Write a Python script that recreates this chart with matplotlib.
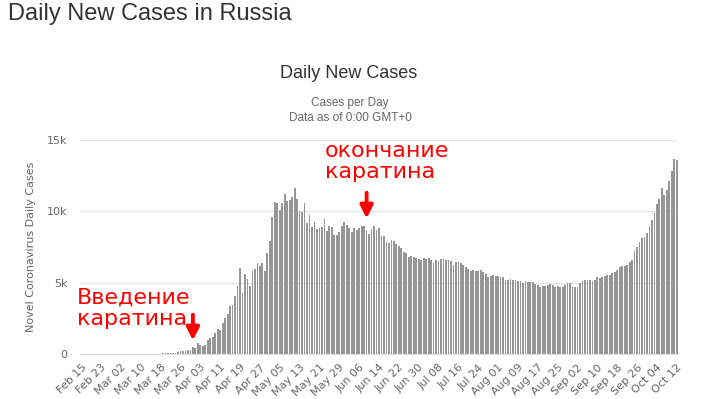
import matplotlib
matplotlib.use("Agg")
import matplotlib.pyplot as plt
import numpy as np
import pandas as pd

# daily new cases, Feb 15 .. Oct 12 2020, month by month
feb = [0] * 15
mar = [0, 1, 0, 0, 1, 6, 3, 0, 3, 3, 8, 6, 6, 14, 4, 30, 21, 33, 52, 54, 53, 61, 71,
       57, 163, 182, 196, 228, 270, 302, 501]
apr = [440, 771, 601, 582, 658, 954, 1154, 1175, 1459, 1786, 1667, 2186, 2558, 2774,
       3388, 3448, 4070, 4785, 6060, 4268, 5642, 5236, 4774, 5849, 5966, 6361, 6198,
       6411, 5841, 7099]
may = [7933, 9623, 10633, 10581, 10102, 10559, 11231, 10699, 10817, 11012, 11656,
       10899, 10028, 9974, 10598, 9200, 9709, 8926, 9263, 8764, 8849, 8894, 9434, 8599,
       8946, 8915, 8338, 8371, 8572, 8952, 9268]
jun = [9035, 8863, 8536, 8831, 8726, 8855, 8984, 8985, 8595, 8404, 8779, 8987, 8706,
       8835, 8246, 8248, 7843, 7790, 7972, 7889, 7728, 7600, 7425, 7176, 7113, 6800,
       6852, 6791, 6719, 6693]
jul = [6556, 6760, 6632, 6736, 6611, 6368, 6562, 6509, 6635, 6632, 6611, 6615, 6537,
       6248, 6422, 6428, 6406, 6234, 6109, 5940, 5842, 5862, 5848, 5811, 5871, 5765,
       5635, 5395, 5475, 5509, 5482]
aug = [5462, 5427, 5394, 5159, 5204, 5241, 5212, 5189, 5102, 5118, 4945, 5102, 5057,
       5065, 5061, 4892, 4839, 4718, 4748, 4767, 4870, 4921, 4852, 4696, 4744, 4676,
       4711, 4829, 4980, 4993, 4729]
sep = [4670, 4729, 4952, 5110, 5205, 5195, 5185, 5099, 5218, 5363, 5310, 5406, 5449,
       5509, 5529, 5670, 5762, 5905, 6065, 6148, 6196, 6215, 6431, 6595, 7212, 7523,
       7867, 8135, 8232, 8481]
octo = [8945, 9412, 9859, 10499, 10888, 11615, 11115, 11493, 12126, 12846, 13634, 13592]

cases = feb + mar + apr + may + jun + jul + aug + sep + octo
dates = pd.date_range("2020-02-15", periods=len(cases), freq="D")

y_ticks = [0, 5000, 10000, 15000]
y_labels = ["0", "5k", "10k", "15k"]

# annotations: (label, date, arrow tip value, arrow tail value)
start_note = ("Введение\nкаратина", "2020-03-31", 950, 2750)
end_note = ("окончание\nкаратина", "2020-06-09", 9500, 11300)

W, H = 702, 399
fig = plt.figure(figsize=(W / 100, H / 100), dpi=100)
ax = fig.add_axes([80 / W, 1 - 354 / H, 598 / W, 214 / H])

x = np.arange(len(cases))
ax.bar(x, cases, width=0.72, color="#969696", linewidth=0)

ax.set_xlim(-0.5, len(cases) - 0.5)
ax.set_ylim(0, 15000)
ax.set_yticks(y_ticks)
ax.set_yticklabels(y_labels)
ax.yaxis.grid(True, color="#e6e6e6", lw=1)
ax.set_axisbelow(True)
for s in ["top", "right", "left"]:
    ax.spines[s].set_visible(False)
ax.spines["bottom"].set_color("#d8dde6")

tick_idx = x[::8]
ax.set_xticks(tick_idx)
ax.set_xticklabels([d.strftime("%b %d") for d in dates[::8]], rotation=45,
                   ha="right", rotation_mode="anchor")
ax.tick_params(axis="x", length=0, pad=6, labelsize=8, labelcolor="#666666")
ax.tick_params(axis="y", length=0, pad=9, labelsize=8, labelcolor="#666666")
ax.set_ylabel("Novel Coronavirus Daily Cases", fontsize=8, color="#666666", labelpad=8)

fig.text(8 / W, 1 - 14 / H, "Daily New Cases in Russia", fontsize=17,
         family="Liberation Sans", color="#333333", va="center")
fig.text(349 / W, 1 - 73 / H, "Daily New Cases", fontsize=13,
         family="Liberation Sans", color="#333333", ha="center", va="center")
fig.text(350 / W, 1 - 103 / H, "Cases per Day", fontsize=8.5,
         family="Liberation Sans", color="#666666", ha="center", va="center")
fig.text(350 / W, 1 - 118 / H, "Data as of 0:00 GMT+0", fontsize=8.5,
         family="Liberation Sans", color="#666666", ha="center", va="center")

fig.text(77 / W, 1 - 288 / H, start_note[0], fontsize=16, color="#ff0000",
         va="top", ha="left", linespacing=1.05)
fig.text(325 / W, 1 - 141 / H, end_note[0], fontsize=16, color="#ff0000",
         va="top", ha="left", linespacing=1.05)

for label, day, tip, tail in [start_note, end_note]:
    i = dates.get_loc(pd.Timestamp(day))
    ax.annotate("", xy=(i, tip), xytext=(i, tail),
                arrowprops=dict(arrowstyle="-|>", color="#ff0000", lw=2.8,
                                mutation_scale=19, shrinkA=0, shrinkB=0),
                annotation_clip=False)

fig.savefig("out.png", dpi=100, facecolor="white")
